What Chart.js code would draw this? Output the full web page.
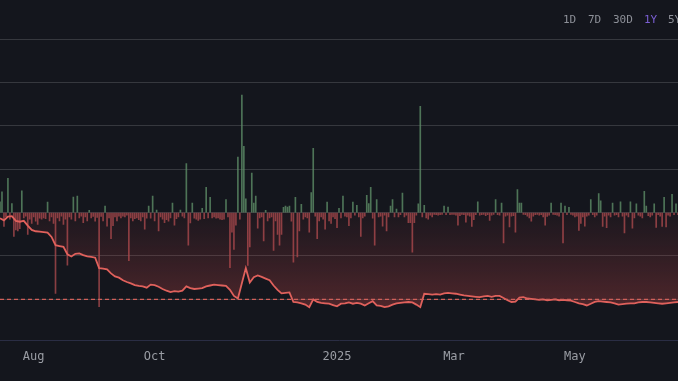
<!DOCTYPE html>
<html><head><meta charset="utf-8">
<script src="https://cdn.jsdelivr.net/npm/chart.js@4.4.1/dist/chart.umd.min.js"></script>
<style>
html,body{margin:0;padding:0;background:#14161d;width:678px;height:381px;overflow:hidden}
#wrap{position:relative;width:678px;height:381px}
canvas{position:absolute;left:0;top:0}
.btn{position:absolute;top:13px;font-family:"DejaVu Sans Mono",monospace;font-size:11px;line-height:13px;color:#8d9098;white-space:nowrap}
.btn.on{color:#7b5fd4}
</style></head>
<body><div id="wrap"><canvas id="c" width="678" height="381"></canvas>
<span class="btn" style="left:563px">1D</span>
<span class="btn" style="left:588px">7D</span>
<span class="btn" style="left:613px">30D</span>
<span class="btn on" style="left:644px">1Y</span>
<span class="btn" style="left:668px">5Y</span>
</div>
<script>
// Day index 0 = 15 Jul 2024 (daily bars), line sampled every 2 days
const tickDays = [17, 78, 170, 229, 290];
const tickLabels = ["Aug", "Oct", "2025", "Mar", "May"];
const refLevel = -20;
const lineStep = 2;
const lineValues = [
-1.3,-1.8,-0.9,-0.8,-1.9,-2.1,-1.9,-3.0,-4.0,-4.3,
-4.4,-4.5,-4.6,-5.6,-7.5,-7.7,-7.9,-9.6,-10.1,-9.5,
-9.4,-9.8,-10.1,-10.2,-10.4,-12.8,-12.9,-13.1,-14.0,-14.7,
-15.0,-15.6,-16.0,-16.3,-16.7,-16.9,-17.0,-17.3,-16.6,-16.7,
-17.1,-17.6,-18.0,-18.3,-18.1,-18.2,-18.0,-17.0,-17.4,-17.6,
-17.5,-17.4,-17.0,-16.8,-16.6,-16.7,-16.8,-16.9,-17.8,-19.2,
-19.8,-16.3,-12.8,-16.1,-14.9,-14.5,-14.8,-15.2,-15.6,-16.8,
-17.8,-18.6,-18.5,-18.4,-20.6,-20.7,-20.9,-21.2,-21.8,-20.0,
-20.6,-20.8,-20.9,-21.0,-21.3,-21.6,-21.0,-20.9,-20.7,-21.0,
-20.8,-21.0,-21.4,-20.9,-20.4,-21.4,-21.5,-21.8,-21.6,-21.2,
-20.9,-20.8,-20.7,-20.6,-20.7,-21.2,-21.8,-18.7,-18.8,-18.9,
-18.8,-18.9,-18.6,-18.5,-18.6,-18.7,-18.9,-19.1,-19.2,-19.3,
-19.4,-19.5,-19.3,-19.2,-19.4,-19.2,-19.2,-19.7,-20.2,-20.6,
-20.5,-19.6,-19.5,-19.8,-19.9,-20.0,-20.1,-20.0,-20.2,-20.1,
-20.0,-20.2,-20.1,-20.2,-20.3,-20.6,-20.9,-21.1,-21.4,-21.0,
-20.6,-20.4,-20.5,-20.6,-20.7,-20.9,-21.2,-21.1,-21.0,-20.9,
-20.9,-20.7,-20.6,-20.6,-20.7,-20.8,-20.9,-21.0,-20.9,-20.8,
-20.7,-20.6
];
const barValues = [
2.5,4.8,-3.2,-1.0,7.9,-1.5,2.1,-5.5,-4.0,-4.2,
-3.7,5.0,-1.2,-0.8,-5.0,-1.5,-2.5,-1.0,-2.0,-2.7,
-1.3,-1.5,-1.2,-1.4,2.4,-1.9,-1.0,-2.5,-18.6,-1.2,
-1.9,-0.8,-2.7,-1.5,-12.1,-1.0,-1.5,3.6,-1.9,3.8,
-1.2,-0.8,-2.3,-1.0,-1.9,0.5,-1.2,-0.9,-2.0,-1.1,
-21.7,-0.9,-1.9,1.5,-3.1,-1.2,-6.0,-3.0,-1.0,-1.9,
-0.8,-1.2,-0.8,-1.0,-0.6,-11.1,-1.2,-1.9,-1.4,-1.2,
-1.6,-1.9,-1.0,-3.8,-1.3,1.5,-1.3,3.8,-1.9,0.6,
-4.2,-1.0,-1.5,-2.3,-1.6,-2.0,-1.2,2.2,-2.9,-1.4,
-1.0,0.6,-0.8,-1.2,11.3,-7.5,-2.4,2.2,-1.3,-1.5,
-1.8,-1.5,1.0,-1.4,5.8,-1.2,3.5,-1.2,-1.0,-1.3,
-1.2,-1.5,-1.6,-1.5,3.0,-1.0,-12.7,-4.5,-8.5,-2.9,
12.8,-1.5,27.1,15.3,3.2,-12.2,-7.9,9.1,2.2,3.8,
-3.6,-1.2,-1.0,-6.5,0.5,-1.9,-1.2,-1.0,-8.7,-1.9,
-5.0,-7.5,-5.0,1.2,1.5,1.3,1.5,-2.0,-11.4,3.5,
-10.2,-4.2,1.9,-1.5,-1.0,-1.2,-4.5,4.6,14.8,-0.8,
-6.0,-1.9,-1.0,-1.5,-3.8,2.4,-1.9,-2.5,-1.0,-1.4,
-3.5,1.0,-1.2,3.8,-0.8,-1.0,-3.0,-1.2,2.4,-0.6,
1.7,-1.0,-5.5,-1.2,-0.8,4.0,2.1,5.8,-1.3,-7.5,
3.0,-1.0,-0.8,-3.1,-0.6,-4.2,-1.0,1.5,3.0,-1.0,
0.8,-1.0,-0.5,4.5,-1.0,-0.6,-2.3,-2.3,-9.1,-2.3,
-0.6,2.0,24.5,-1.0,1.7,-1.2,-1.5,-0.6,-1.0,-0.4,
-0.5,-0.6,-0.5,-0.4,1.5,-0.5,1.3,-0.5,-0.4,-0.4,
-0.6,-2.9,-0.7,-0.4,-0.5,-2.2,-0.6,-0.8,-3.2,-1.6,
-0.5,2.5,-0.6,-0.5,-0.4,-0.7,-0.5,-1.8,-0.6,-0.4,
3.0,-0.5,-0.6,2.2,-7.0,-0.8,-0.6,-3.3,-0.8,-0.7,
-4.5,5.3,2.2,2.2,-0.4,-0.5,-0.8,-1.2,-2.0,-0.8,
-0.5,-0.4,-0.6,-0.5,-1.0,-2.9,-0.9,-0.6,2.2,-0.4,
-0.5,-0.6,-0.8,2.2,-7.0,1.5,-0.5,1.2,-0.4,-0.6,
-1.0,-0.8,-4.1,-2.5,-1.0,-3.1,-0.8,-0.6,3.0,-0.5,
-1.0,-0.6,4.4,2.7,-3.2,-0.8,-3.5,-0.6,-1.0,2.2,
-0.6,-0.5,-1.0,2.5,-0.8,-4.7,-0.6,-1.0,2.5,-3.6,
-1.2,2.0,-0.6,-0.8,-1.2,4.9,1.5,-0.7,-1.0,-0.6,
2.0,-3.4,-0.5,-0.8,-3.2,3.5,-3.3,-0.6,-0.8,4.2,
-0.5,2.0,-0.5
];
const gridTicks = [-20, -10, 0, 10, 20, 30, 40];

const lastDay = barValues.length - 1;
const barData = barValues.map((v, i) => ({x: i, y: v}));
const lineData = lineValues.map((v, i) => ({x: i * lineStep, y: v}));
const refData = [{x: 0, y: refLevel}, {x: lastDay, y: refLevel}];

function fillGradient(context) {
  const chart = context.chart;
  const area = chart.chartArea;
  if (!area) return 'rgba(200,70,70,0.15)';
  const y = chart.scales.y;
  const g = chart.ctx.createLinearGradient(0, y.getPixelForValue(0), 0, y.getPixelForValue(-22));
  g.addColorStop(0, 'rgba(190,65,70,0.05)');
  g.addColorStop(1, 'rgba(215,78,78,0.30)');
  return g;
}

new Chart(document.getElementById('c'), {
  type: 'bar',
  data: {
    datasets: [
      {
        type: 'line', data: refData, borderColor: '#d0605a', borderWidth: 1.4,
        borderDash: [4, 3], pointRadius: 0, fill: false, order: 0
      },
      {
        type: 'line', data: lineData, borderColor: '#e0615c', borderWidth: 1.8,
        pointRadius: 0, tension: 0, fill: 'origin', backgroundColor: fillGradient, order: 1
      },
      {
        type: 'bar', data: barData, barThickness: 1, borderWidth: 0,
        backgroundColor: barValues.map(v => v >= 0 ? 'rgba(92,140,102,0.8)' : 'rgba(166,72,76,0.8)'), order: 2
      }
    ]
  },
  options: {
    responsive: false, animation: false, devicePixelRatio: 1,
    layout: {padding: {left: 0, right: 0, top: 0, bottom: 8}},
    plugins: {legend: {display: false}, tooltip: {enabled: false}},
    scales: {
      x: {
        type: 'linear', min: 0, max: lastDay, offset: false,
        grid: {display: false, offset: false, drawTicks: false},
        border: {display: true, color: '#2a2d44', width: 1},
        afterBuildTicks: s => { s.ticks = tickDays.map(v => ({value: v})); },
        ticks: {
          autoSkip: false, maxRotation: 0, padding: 9, color: '#9a9da4',
          font: {family: '"DejaVu Sans Mono", monospace', size: 12},
          callback: v => { const k = tickDays.indexOf(v); return k >= 0 ? tickLabels[k] : ''; }
        }
      },
      y: {
        type: 'linear', min: -29.5, max: 49,
        afterBuildTicks: s => { s.ticks = gridTicks.map(v => ({value: v})); },
        grid: {color: '#36383e', lineWidth: 1, drawTicks: false},
        border: {display: false},
        ticks: {display: false}
      }
    }
  }
});
</script>
</body></html>
